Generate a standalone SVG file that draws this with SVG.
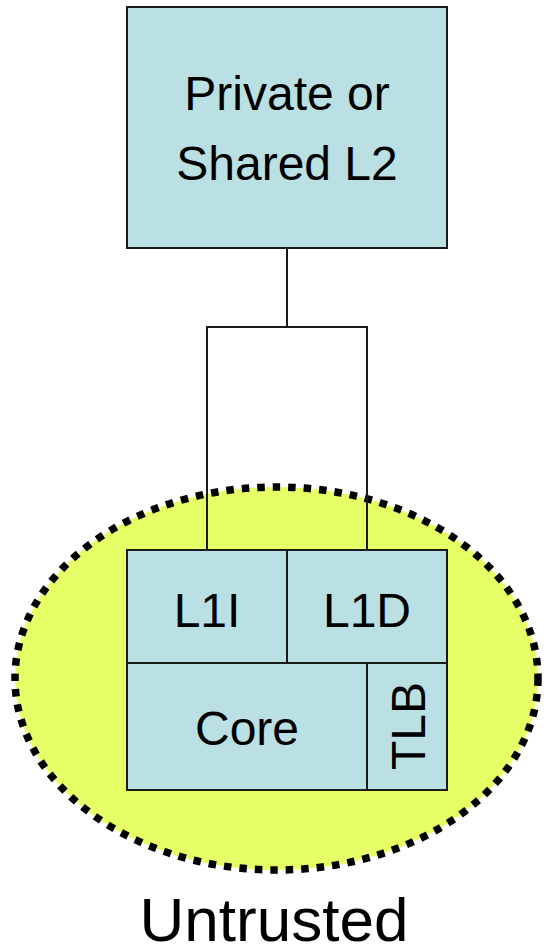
<svg xmlns="http://www.w3.org/2000/svg" width="544" height="946" viewBox="0 0 544 946">
<style>
.box{fill:#BBE0E3;stroke:#1a1a1a;stroke-width:2}
.lbl{font-family:"Liberation Sans",Arial,sans-serif;font-size:48px;fill:#000;text-anchor:middle}
.conn{fill:none;stroke:#1a1a1a;stroke-width:2}
</style>
<rect width="544" height="946" fill="#fff"/>
<g id="untrusted-zone">
<ellipse cx="276.5" cy="678.5" rx="261.5" ry="191.5" fill="#E6FF66" stroke="#000" stroke-width="7.5" stroke-dasharray="7.5 8"/>
<text class="lbl" x="274" y="941" style="font-size:62px">Untrusted</text>
</g>
<g id="connectors">
<path class="conn" d="M287,248 V327 M207,550 V327 H367 V550"/>
</g>
<g id="l2">
<rect class="box" x="127" y="7" width="320" height="241"/>
<text class="lbl" x="287" y="110">Private or</text>
<text class="lbl" x="287" y="180">Shared L2</text>
</g>
<g id="l1i">
<rect class="box" x="127" y="550" width="160" height="113"/>
<text class="lbl" x="207" y="627">L1I</text>
</g>
<g id="l1d">
<rect class="box" x="287" y="550" width="160" height="113"/>
<text class="lbl" x="367" y="627">L1D</text>
</g>
<g id="core">
<rect class="box" x="127" y="663" width="240" height="127"/>
<text class="lbl" x="247" y="745">Core</text>
</g>
<g id="tlb">
<rect class="box" x="367" y="663" width="80" height="127"/>
<text class="lbl" transform="translate(425,726) rotate(-90)" x="0" y="0">TLB</text>
</g>
</svg>
